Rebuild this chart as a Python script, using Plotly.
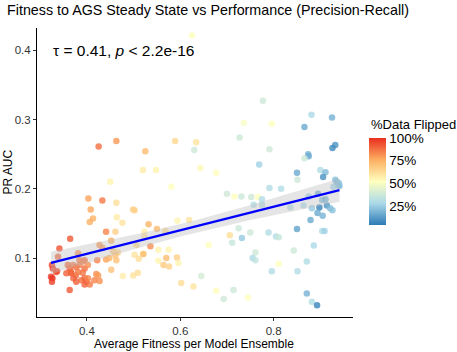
import numpy as np
import plotly.graph_objects as go

# Average fitness per model ensemble
fitness = [0.450, 0.403, 0.433, 0.463, 0.408, 0.499, 0.502, 0.413, 0.406, 0.464,
           0.476, 0.441, 0.461, 0.523, 0.364, 0.341, 0.427, 0.433, 0.523, 0.506,
           0.338, 0.381, 0.456, 0.466, 0.461, 0.502, 0.520, 0.441, 0.448, 0.463,
           0.422, 0.395, 0.384, 0.511, 0.325, 0.327, 0.334, 0.323, 0.326, 0.325,
           0.336, 0.359, 0.363, 0.366, 0.370, 0.377, 0.384, 0.391, 0.395, 0.356,
           0.366, 0.376, 0.381, 0.391, 0.371, 0.377, 0.388, 0.395, 0.399, 0.402,
           0.395, 0.406, 0.363, 0.420, 0.424, 0.416, 0.427, 0.402, 0.452, 0.477,
           0.499, 0.509, 0.452, 0.425, 0.463,
           0.625, 0.736, 0.727, 0.589, 0.634, 0.630, 0.525, 0.520, 0.548, 0.643,
           0.677, 0.581, 0.700, 0.716, 0.731, 0.594, 0.619, 0.532, 0.550, 0.568,
           0.725, 0.706, 0.732, 0.711, 0.536, 0.661, 0.521, 0.553, 0.575, 0.570,
           0.593, 0.553, 0.564, 0.576, 0.596, 0.645, 0.602, 0.628, 0.677, 0.693,
           0.714, 0.745,
           0.777, 0.881, 0.925, 0.796, 0.866, 0.932, 0.926, 0.791, 0.874, 0.875,
           0.866, 0.769, 0.900, 0.911, 0.850, 0.906, 0.851, 0.932, 0.938, 0.941,
           0.928, 0.791, 0.816, 0.752, 0.766, 0.775, 0.875, 0.895, 0.904, 0.911,
           0.914, 0.898, 0.921, 0.926, 0.757, 0.836, 0.864, 0.882, 0.894, 0.905,
           0.879, 0.850, 0.750, 0.789, 0.805, 0.811, 0.904, 0.909, 0.886, 0.843,
           0.761, 0.755, 0.761, 0.811, 0.871, 0.796, 0.851, 0.871, 0.882, 0.893,
           0.775, 0.935, 0.940]

# PR AUC
pr_auc = [0.210, 0.186, 0.183, 0.180, 0.170, 0.170, 0.169, 0.157, 0.152, 0.159,
          0.151, 0.138, 0.138, 0.138, 0.128, 0.114, 0.119, 0.115, 0.131, 0.119,
          0.102, 0.107, 0.110, 0.108, 0.104, 0.105, 0.106, 0.098, 0.100, 0.097,
          0.097, 0.097, 0.097, 0.099, 0.090, 0.085, 0.080, 0.073, 0.071, 0.066,
          0.081, 0.090, 0.085, 0.080, 0.090, 0.087, 0.090, 0.095, 0.085, 0.078,
          0.078, 0.075, 0.080, 0.079, 0.071, 0.066, 0.068, 0.071, 0.066, 0.071,
          0.062, 0.062, 0.054, 0.077, 0.075, 0.068, 0.067, 0.090, 0.083, 0.074,
          0.075, 0.079, 0.125, 0.261, 0.269,
          0.421, 0.295, 0.274, 0.269, 0.267, 0.256, 0.254, 0.227, 0.227, 0.230,
          0.223, 0.203, 0.193, 0.189, 0.189, 0.154, 0.155, 0.149, 0.142, 0.139,
          0.143, 0.133, 0.129, 0.122, 0.117, 0.119, 0.106, 0.112, 0.112, 0.100,
          0.101, 0.096, 0.090, 0.088, 0.093, 0.074, 0.064, 0.059, 0.053, 0.041,
          0.054, 0.043,
          0.327, 0.307, 0.303, 0.294, 0.289, 0.263, 0.259, 0.257, 0.250, 0.247,
          0.244, 0.235, 0.227, 0.224, 0.223, 0.217, 0.213, 0.213, 0.205, 0.204,
          0.203, 0.201, 0.200, 0.188, 0.188, 0.185, 0.189, 0.193, 0.184, 0.185,
          0.176, 0.173, 0.172, 0.169, 0.177, 0.173, 0.176, 0.172, 0.165, 0.161,
          0.155, 0.142, 0.137, 0.137, 0.131, 0.130, 0.139, 0.139, 0.118, 0.111,
          0.108, 0.100, 0.097, 0.092, 0.095, 0.081, 0.081, 0.049, 0.037, 0.032,
          0.177, 0.210, 0.208]

# % of data flipped
flipped = [56, 78, 86, 62, 77, 66, 66, 75, 75, 58,
           60, 84, 66, 57, 92, 93, 80, 80, 60, 64,
           90, 82, 68, 66, 70, 60, 58, 78, 74, 70,
           84, 88, 86, 62, 96, 97, 93, 98, 99, 97,
           94, 89, 90, 88, 87, 88, 86, 85, 88, 91,
           90, 89, 86, 87, 90, 91, 88, 89, 90, 84,
           90, 86, 92, 82, 80, 84, 82, 82, 70, 57,
           60, 62, 76, 88, 80,
           52, 50, 38, 64, 60, 38, 72, 58, 56, 54,
           53, 52, 38, 52, 37, 55, 60, 74, 72, 64,
           37, 62, 24, 36, 82, 52, 72, 56, 55, 72,
           66, 55, 68, 65, 56, 40, 62, 60, 53, 38,
           38, 52,
           38, 28, 18, 52, 16, 10, 8, 38, 18, 16,
           38, 26, 30, 20, 16, 10, 38, 22, 24, 20,
           26, 30, 30, 38, 52, 30, 26, 16, 20, 18,
           10, 6, 20, 22, 30, 30, 28, 24, 16, 18,
           16, 14, 38, 30, 30, 36, 30, 26, 28, 38,
           38, 28, 34, 52, 30, 30, 30, 18, 30, 6,
           30, 20, 22]

# Fitted regression line
fit_intercept = 0.0381
fit_slope = 0.170

x_ticks = [0.4, 0.6, 0.8]
y_ticks = [0.1, 0.2, 0.3, 0.4]
color_ticks = [25, 50, 75, 100]
color_labels = ["25%", "50%", "75%", "100%"]

x = np.array(fitness)
y = np.array(pr_auc)
n = len(x)
xs = np.linspace(x.min(), x.max(), 80)
ys = fit_intercept + fit_slope * xs
resid = y - (fit_intercept + fit_slope * x)
sigma = np.sqrt(np.sum(resid ** 2) / (n - 2))
sxx = np.sum((x - x.mean()) ** 2)
se = sigma * np.sqrt(1.0 / n + (xs - x.mean()) ** 2 / sxx) * 1.97

colorscale = [[0.0, "#2C7BB6"], [0.25, "#ABD9E9"], [0.5, "#FFFFBF"],
              [0.75, "#FDAE61"], [1.0, "#EA2E1F"]]

FONT = "Liberation Sans, Arial, sans-serif"
W, H = 457, 352
ML, MR, MT, MB = 37, 104, 28, 35
PW, PH = W - ML - MR, H - MT - MB


def px_x(px):
    return (px - ML) / PW


def px_y(py):
    return (H - MB - py) / PH


fig = go.Figure()
fig.add_trace(go.Scatter(
    x=fitness, y=pr_auc, mode="markers",
    marker=dict(size=6.5, color=flipped, colorscale=colorscale, cmin=4, cmax=100,
                opacity=0.8, line=dict(width=0),
                colorbar=dict(
                    tickvals=color_ticks, ticktext=color_labels,
                    tickfont=dict(size=13.5, color="black", family=FONT),
                    ticks="", outlinewidth=0,
                    x=px_x(369), xanchor="left",
                    y=px_y(138), yanchor="top",
                    lenmode="pixels", len=87, thickness=17, xpad=0, ypad=0)),
    showlegend=False, hoverinfo="skip"))

fig.add_trace(go.Scatter(
    x=np.concatenate([xs, xs[::-1]]), y=np.concatenate([ys + se, (ys - se)[::-1]]),
    fill="toself", fillcolor="rgba(190,190,190,0.4)", line=dict(width=0),
    mode="lines", showlegend=False, hoverinfo="skip"))
fig.add_trace(go.Scatter(x=xs, y=ys, mode="lines",
                         line=dict(color="#0000FF", width=2.2),
                         showlegend=False, hoverinfo="skip"))

fig.update_layout(
    width=W, height=H,
    margin=dict(l=ML, r=MR, t=MT, b=MB, autoexpand=False),
    paper_bgcolor="white", plot_bgcolor="white",
    font=dict(family=FONT, color="black"),
    title=dict(text="Fitness to AGS Steady State vs Performance (Precision-Recall)",
               x=7 / W, xanchor="left", xref="container",
               y=1 - 10 / H, yanchor="middle", yref="container",
               font=dict(size=14.3, color="black", family=FONT)),
    xaxis=dict(range=[0.293, 0.970], tickvals=x_ticks, ticktext=["0.4", "0.6", "0.8"],
               showgrid=False, zeroline=False, showline=True, linecolor="black",
               linewidth=1, ticks="outside", ticklen=3, tickcolor="#333",
               tickfont=dict(size=11.5, color="#333"), automargin=False),
    yaxis=dict(range=[0.015, 0.432], tickvals=y_ticks, ticktext=["0.1", "0.2", "0.3", "0.4"],
               showgrid=False, zeroline=False, showline=True, linecolor="black",
               linewidth=1, ticks="outside", ticklen=3, tickcolor="#333",
               tickfont=dict(size=11.5, color="#333"), automargin=False),
    annotations=[
        dict(text="τ = 0.41, <i>p</i> < 2.2e-16", x=0.3235, y=0.399,
             xref="x", yref="y", xanchor="left", yanchor="middle",
             showarrow=False, font=dict(size=15.5, color="black", family=FONT)),
        dict(text="Average Fitness per Model Ensemble", x=px_x(194), y=px_y(344),
             xref="paper", yref="paper", xanchor="center", yanchor="middle",
             showarrow=False, font=dict(size=12, color="black", family=FONT)),
        dict(text="PR AUC", x=px_x(7.5), y=px_y(172), textangle=-90,
             xref="paper", yref="paper", xanchor="center", yanchor="middle",
             showarrow=False, font=dict(size=12, color="black", family=FONT)),
        dict(text="%Data Flipped", x=px_x(369), y=px_y(124),
             xref="paper", yref="paper", xanchor="left", yanchor="middle",
             showarrow=False, font=dict(size=13, color="black", family=FONT)),
    ],
)

fig.write_html("out.html", config={"displayModeBar": False},
               post_script="document.body.style.margin='0px';document.body.style.overflow='hidden';")
